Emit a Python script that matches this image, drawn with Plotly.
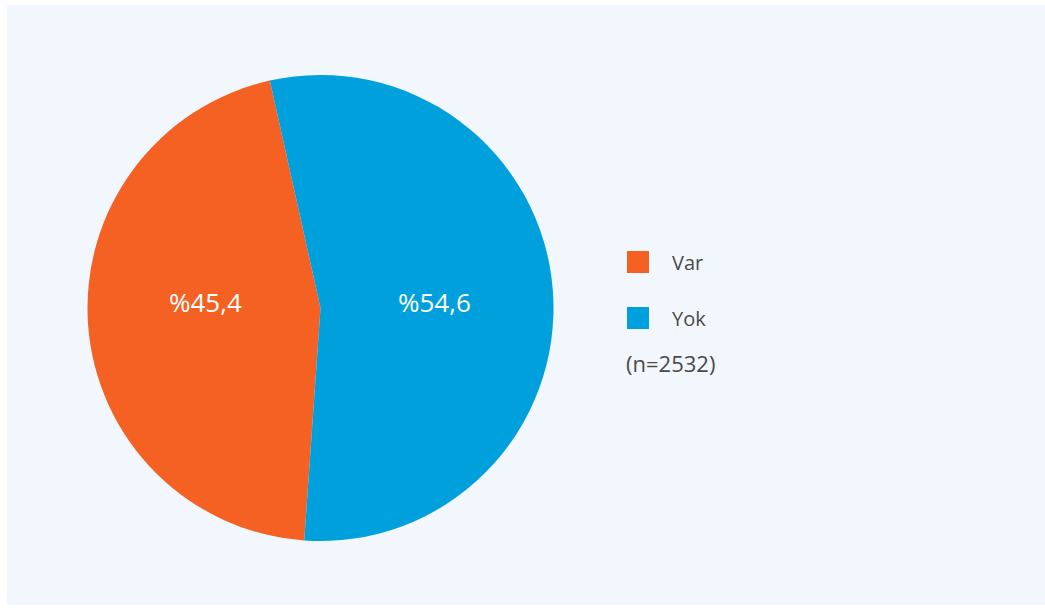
import plotly.graph_objects as go

# ── Data ─────────────────────────────────────────────
labels = ["Var", "Yok"]
values = [45.4, 54.6]
colors = ["#F56023", "#00A0DC"]
n_note = "(n=2532)"

W, H = 1045, 608
FONT = "Open Sans"
TEXT_GREY = "#4A4A4A"


def px_x(x):
    return x / W


def px_y(y):
    return 1 - y / H


slice_text = ["%" + f"{v:.1f}".replace(".", ",") for v in values]

fig = go.Figure()

# ── Pie ──────────────────────────────────────────────
fig.add_trace(go.Pie(
    labels=labels,
    values=values,
    text=slice_text,
    textinfo="none",
    marker=dict(colors=colors, line=dict(width=0)),
    sort=False,
    direction="clockwise",
    rotation=184,
    domain=dict(x=[px_x(87), px_x(554)], y=[px_y(541), px_y(75)]),
    showlegend=False,
    hoverinfo="label+percent",
))

# ── Panel background ─────────────────────────────────
shapes = [dict(
    type="rect", xref="paper", yref="paper",
    x0=px_x(7), x1=1, y0=px_y(605), y1=px_y(5),
    fillcolor="#F2F7FD", line=dict(width=0), layer="below",
)]

annotations = []

# slice labels (white, horizontal)
for txt, xc in zip(slice_text, [205, 434]):
    annotations.append(dict(
        x=px_x(xc), y=px_y(302), xref="paper", yref="paper",
        text=txt, showarrow=False, xanchor="center", yanchor="middle",
        font=dict(family=FONT, size=26, color="white"),
    ))

# ── Manual legend (square markers + labels) ──────────
legend_rows = [262, 318]
for lab, col, yc in zip(labels, colors, legend_rows):
    shapes.append(dict(
        type="rect", xref="paper", yref="paper",
        x0=px_x(627), x1=px_x(649), y0=px_y(yc + 11), y1=px_y(yc - 11),
        fillcolor=col, line=dict(width=0),
    ))
    annotations.append(dict(
        x=px_x(670), y=px_y(yc), xref="paper", yref="paper",
        text=lab, showarrow=False, xanchor="left", yanchor="middle",
        font=dict(family=FONT, size=20, color=TEXT_GREY),
    ))

annotations.append(dict(
    x=px_x(624), y=px_y(363), xref="paper", yref="paper",
    text=n_note, showarrow=False, xanchor="left", yanchor="middle",
    font=dict(family=FONT, size=22, color=TEXT_GREY),
))

fig.update_layout(
    width=W, height=H,
    margin=dict(l=0, r=0, t=0, b=0),
    paper_bgcolor="white",
    plot_bgcolor="white",
    shapes=shapes,
    annotations=annotations,
)

fig.write_html(
    "out.html",
    config={"displayModeBar": False},
    post_script="document.body.style.margin='0';",
)
